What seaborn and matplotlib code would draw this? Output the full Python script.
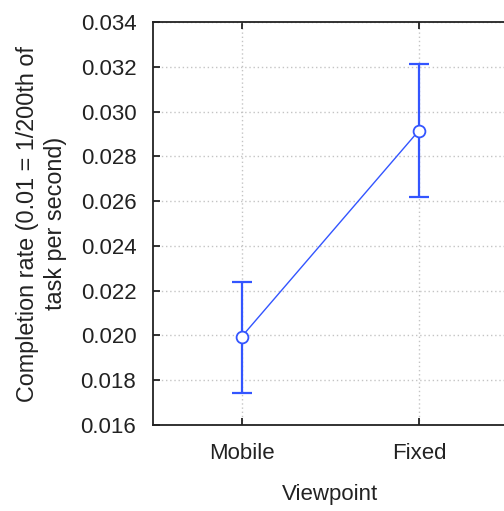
import matplotlib
matplotlib.use("Agg")
import matplotlib.pyplot as plt
import seaborn as sns
import pandas as pd

categories = ["Mobile", "Fixed"]
means = [0.01994, 0.02915]
ci_low = [0.01744, 0.02617]
ci_high = [0.02240, 0.03212]
yticks = [0.016, 0.018, 0.020, 0.022, 0.024, 0.026, 0.028, 0.030, 0.032, 0.034]

sns.set_style("white")
plt.rcParams["font.family"] = ["Liberation Sans", "DejaVu Sans"]

blue = "#3355ff"
fig = plt.figure(figsize=(5.04, 5.11), dpi=100)
W, H = 504, 511
left, right, top, bottom = 153, 507.5, 22, 425
ax = fig.add_axes([left / W, 1 - bottom / H, (right - left) / W, (bottom - top) / H])

df = pd.DataFrame({"Viewpoint": categories, "rate": means, "x": [0, 1]})
ax.errorbar(df["x"], df["rate"],
            yerr=[[m - l for m, l in zip(means, ci_low)], [h - m for m, h in zip(means, ci_high)]],
            fmt="none", ecolor=blue, elinewidth=1.6, capsize=7, capthick=1.6, zorder=3)
sns.lineplot(data=df, x="x", y="rate", ax=ax, color=blue, linewidth=1.0,
             marker="o", markersize=8.5, markerfacecolor="white",
             markeredgecolor=blue, markeredgewidth=1.3, zorder=4)

ax.set_xlim(-0.5, 1.5)
ax.set_ylim(0.016, 0.034)
ax.set_xticks([0, 1])
ax.set_xticklabels(categories)
ax.set_yticks(yticks)
ax.set_yticklabels([f"{v:.3f}" for v in yticks])
ax.grid(True, color="#c4c4c4", linestyle=(0, (1, 2)), linewidth=1.0)
ax.set_axisbelow(True)
for s in ["left", "bottom", "top"]:
    ax.spines[s].set_color("#222222")
    ax.spines[s].set_linewidth(1.3)
ax.spines["right"].set_visible(False)
ax.tick_params(axis="both", direction="in", length=5, width=1.3, color="#222222",
               labelsize=16, labelcolor="#222222", top=True, bottom=True, left=True, right=False)
ax.tick_params(axis="x", pad=13)
ax.tick_params(axis="y", pad=12)

ax.set_xlabel("Viewpoint", fontsize=16, color="#222222", labelpad=14)
ax.set_ylabel("Completion rate (0.01 = 1/200th of\ntask per second)", fontsize=16.8,
              color="#222222", labelpad=10, linespacing=1.25)

fig.savefig("out.png", dpi=100)
